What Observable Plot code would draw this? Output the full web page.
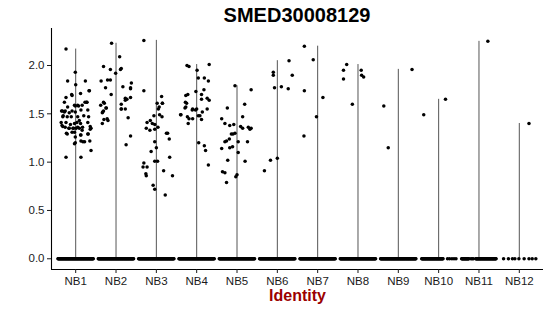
<!DOCTYPE html>
<html>
<head>
<meta charset="utf-8">
<script src="https://cdn.jsdelivr.net/npm/d3@7"></script>
<script src="https://cdn.jsdelivr.net/npm/@observablehq/plot@0.6"></script>
<style>
  html, body { margin: 0; padding: 0; background: white; }
  #title { width: 550px; height: 28px; box-sizing: border-box; padding: 4px 7px 0 51px;
    text-align: center; font: bold 20px "Liberation Sans", Arial, sans-serif; line-height: 22px; color: #000; }
  #chart svg { display: block; }
</style>
</head>
<body>
<div id="title">SMED30008129</div>
<div id="chart"></div>
<script>
const groups = ["NB1","NB2","NB3","NB4","NB5","NB6","NB7","NB8","NB9","NB10","NB11","NB12"];
const yTicks = [0, 0.5, 1, 1.5, 2];

// nonzero expression values per identity: [jitter offset, value]
const NB1 = [[-0.24,2.17],[-0.01,1.93],[-0.2,1.84],[0,1.80],[0.24,1.84],[0.34,1.74],[-0.1,1.70],[0.12,1.71],
  [-0.24,1.67],[-0.28,1.62],[-0.03,1.59],[0.05,1.59],[0.23,1.62],[0.28,1.62],[-0.2,1.57],[-0.35,1.53],
  [-0.28,1.52],[-0.16,1.51],[-0.01,1.52],[0.13,1.54],[0.3,1.54],[-0.32,1.47],[-0.11,1.47],[0.05,1.47],
  [0.09,1.43],[-0.36,1.41],[-0.24,1.41],[-0.03,1.40],[0.3,1.41],[0.36,1.37],[-0.32,1.37],[-0.16,1.35],
  [-0.07,1.35],[0.01,1.35],[0.09,1.35],[0.17,1.36],[0.36,1.34],[-0.21,1.29],[-0.03,1.31],[0.13,1.28],
  [0.3,1.29],[-0.01,1.20],[0.13,1.22],[0.22,1.21],[0.38,1.12],[-0.24,1.05],[0.13,1.05],
  [-0.33,1.53],[-0.26,1.53],[-0.31,1.48],[-0.21,1.47],[-0.09,1.53],[-0.01,1.58],[0.07,1.58],[0.16,1.59],
  [0.27,1.62],[0.2,1.48],[0.32,1.47],[-0.34,1.38],[-0.26,1.36],[-0.13,1.39],[0.03,1.41],[0.12,1.40],
  [-0.17,1.35],[-0.05,1.35],[0.05,1.36],[0.16,1.33],[0.38,1.35],[-0.23,1.30],[-0.09,1.31],[0.31,1.29],
  [0.12,1.28],[-0.01,1.26],[0.35,1.22],[0.18,1.21],[-0.03,1.19],[0.33,1.74],[-0.09,1.69]];
const NB2 = [[-0.11,2.23],[0.09,2.09],[-0.31,1.99],[-0.14,1.96],[0.13,1.97],[0.11,1.96],[-0.01,1.92],
  [-0.37,1.84],[-0.21,1.85],[-0.14,1.85],[0.38,1.82],[-0.26,1.77],[0.17,1.78],[0.36,1.77],[-0.12,1.70],
  [0.36,1.67],[0.23,1.66],[0.27,1.65],[-0.29,1.61],[-0.38,1.59],[0.13,1.60],[-0.25,1.56],[-0.33,1.52],
  [-0.34,1.51],[0.13,1.55],[0.23,1.55],[-0.3,1.44],[-0.2,1.43],[0.3,1.46],[-0.34,1.40],[0.36,1.27],
  [0.25,1.18],[-0.31,1.62],[-0.24,1.56],[-0.31,1.53],[-0.22,1.45],[0.13,1.55],[0.23,1.64],[0.36,1.76]];
const NB3 = [[-0.31,2.26],[-0.31,1.74],[0.13,1.68],[0.15,1.61],[0.02,1.61],[0.07,1.57],[0.05,1.55],
  [-0.06,1.48],[0.08,1.49],[0.14,1.47],[-0.15,1.43],[-0.23,1.41],[-0.1,1.40],[-0.04,1.39],[0.04,1.36],
  [-0.25,1.35],[-0.16,1.33],[-0.04,1.34],[0.28,1.30],[0.32,1.24],[-0.04,1.21],[0,1.15],[-0.13,1.11],
  [0.33,1.05],[-0.04,1.01],[0.03,1.01],[-0.31,0.99],[-0.33,0.95],[-0.23,0.95],[0.18,0.91],[-0.26,0.88],
  [-0.25,0.86],[0.4,0.86],[-0.08,0.76],[-0.04,0.72],[0.22,0.66],[0.15,1.61],[0.25,1.30]];
const NB4 = [[-0.24,2.0],[-0.19,1.99],[0.31,2.01],[0.01,1.95],[0.04,1.87],[0.19,1.87],[0.29,1.84],
  [-0.27,1.69],[0.18,1.75],[-0.02,1.73],[0.12,1.70],[0.26,1.66],[0.31,1.64],[0.12,1.65],[-0.25,1.61],
  [-0.27,1.57],[-0.1,1.55],[0,1.55],[0.26,1.55],[0.14,1.52],[-0.39,1.49],[-0.23,1.47],[-0.19,1.45],
  [-0.1,1.45],[0.04,1.48],[0.08,1.48],[0.12,1.44],[-0.21,1.40],[0.05,1.20],[0.19,1.17],[0.22,1.12],
  [0.29,0.97],[-0.4,1.49],[-0.29,1.56],[-0.28,1.62],[-0.22,1.70],[-0.11,1.54],[-0.03,1.54]];
const NB5 = [[-0.05,1.79],[0.35,1.75],[0.19,1.60],[-0.24,1.56],[0.14,1.47],[-0.38,1.45],[-0.3,1.40],
  [-0.18,1.38],[-0.08,1.39],[0.09,1.37],[0.14,1.35],[0.28,1.36],[0.32,1.34],[0.35,1.35],[-0.14,1.29],
  [-0.05,1.30],[-0.1,1.29],[-0.19,1.24],[-0.26,1.22],[-0.3,1.21],[0.03,1.21],[0.26,1.21],[-0.11,1.16],
  [-0.18,1.15],[-0.38,1.14],[0.03,1.10],[-0.23,1.02],[0.2,1.01],[-0.36,0.90],[-0.3,0.89],[-0.03,0.85],
  [0,0.87],[-0.26,0.79]];
const NB6 = [[-0.1,1.93],[-0.1,1.90],[0.29,2.05],[0.37,1.90],[-0.07,1.77],[0.1,1.78],[0.27,1.76],
  [-0.17,1.02],[0,1.04],[-0.32,0.91]];
const NB7 = [[-0.33,2.2],[-0.11,2.06],[-0.33,1.74],[0.13,1.67],[-0.03,1.47],[-0.34,1.27]];
const NB8 = [[-0.28,2.01],[-0.36,1.95],[-0.36,1.86],[0.08,1.95],[0.09,1.90],[0.14,1.88],[-0.14,1.60]];
const NB9 = [[-0.36,1.58],[0.34,1.96],[-0.25,1.15]];
const NB10 = [[-0.37,1.49],[0.17,1.65]];
const NB11 = [[0.22,2.25]];
const NB12 = [[0.24,1.40]];
const nonzero = [NB1,NB2,NB3,NB4,NB5,NB6,NB7,NB8,NB9,NB10,NB11,NB12];

// zero-expression cells: jitter spread of the dense band per identity
const denseZero = d3.range(-0.44, 0.445, 0.012);
const zeroNB10 = d3.range(-0.42, 0.11, 0.012).concat([0.22, 0.27, 0.33, 0.38, 0.43]);
const zeroNB11 = d3.range(-0.43, -0.24, 0.012).concat([-0.2, -0.17, -0.14], d3.range(-0.08, 0.435, 0.012));
const zeroNB12 = [-0.39, -0.27, -0.17, -0.11, -0.01, 0.12, 0.24, 0.32, 0.41];
const zeroJitter = [denseZero, denseZero, denseZero, denseZero, denseZero, denseZero, denseZero,
  denseZero, denseZero, zeroNB10, zeroNB11, zeroNB12];

const points = nonzero.flatMap((arr, i) => arr.map(([dx, v]) => ({g: i + 1, x: i + 1 + dx, v})));
const zeros = zeroJitter.flatMap((arr, i) => arr.map(dx => ({g: i + 1, x: i + 1 + dx, v: 0})));
const violins = groups.map((name, i) => ({g: i + 1, max: d3.max(nonzero[i], d => d[1])}));

const yLo = -0.111, yHi = 2.383;
const chart = Plot.plot({
  width: 550, height: 288,
  marginTop: 0, marginBottom: 47, marginLeft: 51, marginRight: 7,
  x: {type: "linear", domain: [0.4, 12.6]},
  y: {domain: [yLo, yHi]},
  style: {fontFamily: "'Liberation Sans', Arial, sans-serif", fontSize: "11.5px", color: "#1a1a1a", background: "white", overflow: "visible"},
  marks: [
    Plot.ruleX(violins, {x: "g", y1: 0, y2: "max", stroke: "#555", strokeWidth: 1}),
    Plot.dot(zeros, {x: "x", y: "v", r: 1.75, fill: "black"}),
    Plot.dot(points, {x: "x", y: "v", r: 1.75, fill: "black"}),
    Plot.ruleX([0.4], {stroke: "black", strokeWidth: 1.1}),
    Plot.ruleY([yLo], {stroke: "black", strokeWidth: 1.1}),
    Plot.axisX({ticks: d3.range(1, 13), tickFormat: d => groups[d - 1], tickSize: 4, tickPadding: 3, label: null, fontSize: 11.5}),
    Plot.axisY({ticks: yTicks, tickFormat: d3.format(".1f"), tickSize: 4, tickPadding: 3, label: null, fontSize: 11.5}),
    Plot.text(["Identity"], {frameAnchor: "bottom", dy: 31, fill: "#9b0000", fontWeight: "bold", fontSize: 16})
  ]
});
document.getElementById("chart").appendChild(chart);
</script>
</body>
</html>
